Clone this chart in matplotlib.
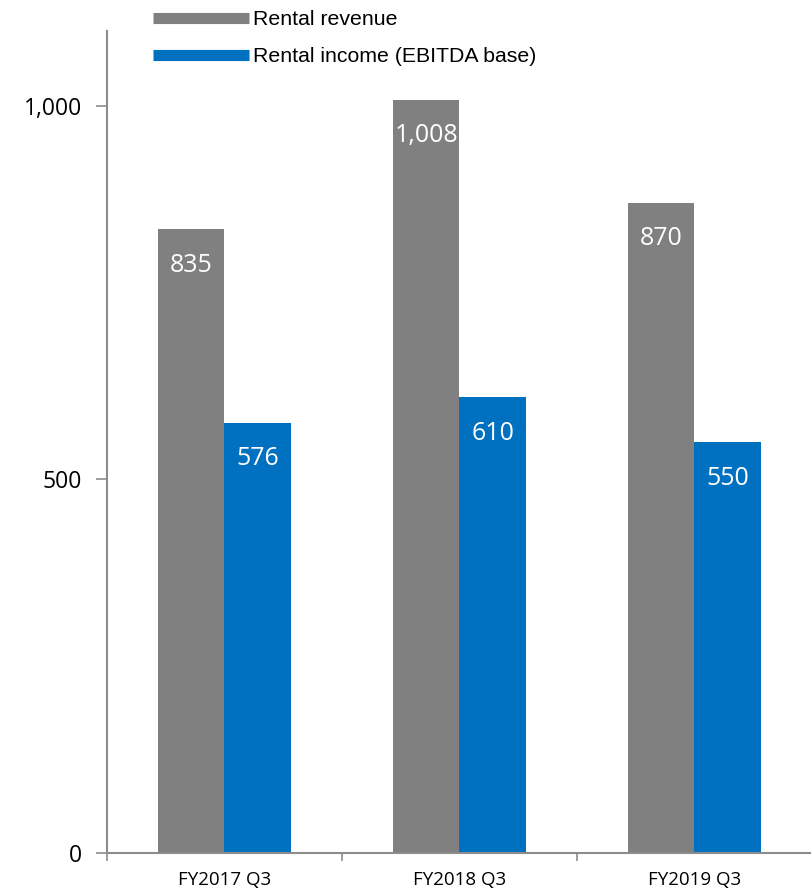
import matplotlib.pyplot as plt
from matplotlib.lines import Line2D
import numpy as np

# data
periods = ['FY2017 Q3', 'FY2018 Q3', 'FY2019 Q3']
rental_revenue = [835, 1008, 870]
rental_income = [576, 610, 550]
series_names = ['Rental revenue', 'Rental income (EBITDA base)']

GRAY = '#808080'
BLUE = '#0070C0'
AXIS = '#8c8c8c'

fig = plt.figure(figsize=(8.12, 8.91), dpi=100)
ax = fig.add_axes([107 / 812, 1 - 853 / 891, 705 / 812, (853 - 31) / 891])

x = np.arange(len(periods))
w = 0.285
bars1 = ax.bar(x - w / 2, rental_revenue, width=w, color=GRAY)
bars2 = ax.bar(x + w / 2, rental_income, width=w, color=BLUE)

# value labels inside the top of each bar
for bars, vals in [(bars1, rental_revenue), (bars2, rental_income)]:
    for b, v in zip(bars, vals):
        ax.annotate(f'{v:,}', (b.get_x() + b.get_width() / 2, v),
                    xytext=(0, -26), textcoords='offset points',
                    ha='center', va='center', color='white',
                    fontsize=18, family='Open Sans')

ax.set_xlim(-0.5, 2.5)
ax.set_ylim(0, 1100)

ax.set_yticks([0, 500, 1000])
ax.set_yticklabels(['0', '500', '1,000'], family='Open Sans', fontsize=16.5)
ax.tick_params(axis='y', length=8, width=1.2, color=AXIS, pad=10)

ax.set_xticks(x)
ax.set_xticklabels(periods, family='Open Sans', fontsize=13.5)
ax.tick_params(axis='x', which='major', length=0, pad=13)
ax.set_xticks([-0.5, 0.5, 1.5, 2.5], minor=True)
ax.tick_params(axis='x', which='minor', length=6, width=1.2, color=AXIS)

for s in ['top', 'right']:
    ax.spines[s].set_visible(False)
for s in ['left', 'bottom']:
    ax.spines[s].set_color(AXIS)
    ax.spines[s].set_linewidth(1.5)

handles = [Line2D([], [], color=GRAY, lw=8, solid_capstyle='butt'),
           Line2D([], [], color=BLUE, lw=8, solid_capstyle='butt')]
fig.legend(handles, series_names, loc='upper left',
           bbox_to_anchor=(153 / 812, 1 - 10 / 891), frameon=False,
           prop={'family': 'Liberation Sans', 'size': 15.3},
           borderpad=0, borderaxespad=0,
           handlelength=4.5, handletextpad=0.2, labelspacing=0.85)

fig.savefig('out.png', dpi=100)
